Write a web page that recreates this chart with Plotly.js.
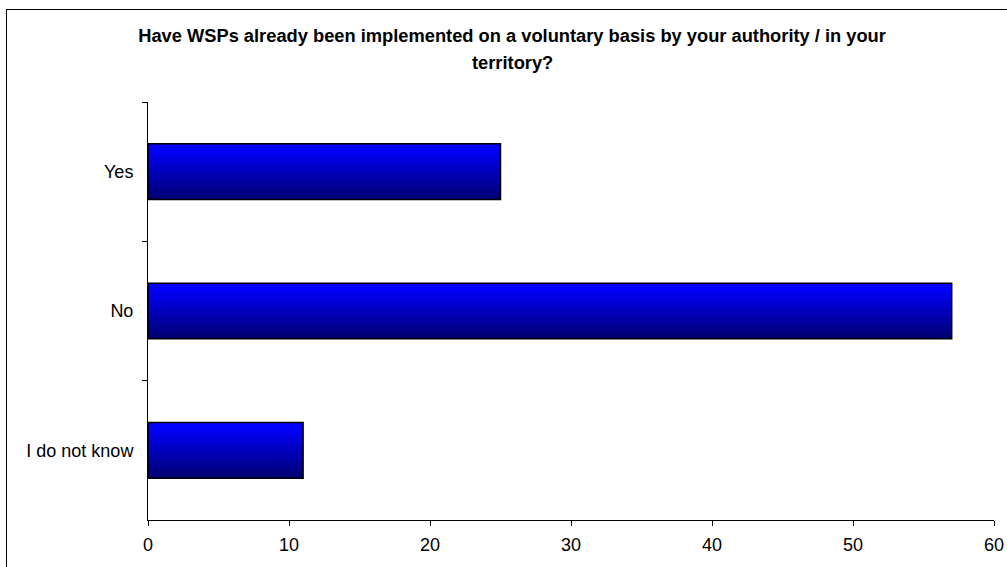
<!DOCTYPE html>
<html>
<head>
<meta charset="utf-8">
<script src="https://cdn.plot.ly/plotly-3.0.1.min.js"></script>
<style>
  html, body { margin: 0; padding: 0; background: #fff; }
  #wrap { position: relative; width: 1007px; height: 567px; overflow: hidden; }
  #chart { width: 1007px; height: 567px; }
  #frame { position: absolute; left: 6px; top: 9px; width: 1010px; height: 570px;
           border: 1.5px solid #000; pointer-events: none; box-sizing: border-box; }
</style>
</head>
<body>
<div id="wrap">
  <div id="chart"></div>
  <div id="frame"></div>
</div>
<script>
const categories = ["Yes", "No", "I do not know"];
const values = [25, 57, 11];
const titleLine1 = "Have WSPs already been implemented on a voluntary basis by your authority / in your";
const titleLine2 = "territory?";
const xTickValues = [0, 10, 20, 30, 40, 50, 60];

const FONT = "Liberation Sans, Arial, sans-serif";

const trace = {
  type: "bar",
  orientation: "h",
  y: categories,
  x: values,
  marker: { color: "#0000cc", line: { color: "#000000", width: 1.5 } },
  hoverinfo: "none"
};

const layout = {
  width: 1007,
  height: 567,
  margin: { l: 148, r: 13, t: 102, b: 47 },
  paper_bgcolor: "rgba(0,0,0,0)",
  plot_bgcolor: "rgba(0,0,0,0)",
  showlegend: false,
  bargap: 0.6,
  font: { family: FONT, size: 18, color: "#000" },
  title: {
    text: "<b>" + titleLine1 + "</b>",
    font: { family: FONT, size: 18.3, color: "#000" },
    xref: "container", x: 0.5085, xanchor: "center",
    yref: "container", y: 1 - 36 / 567, yanchor: "middle"
  },
  annotations: [{
    text: "<b>" + titleLine2 + "</b>",
    font: { family: FONT, size: 18.3, color: "#000" },
    xref: "paper", x: (512 - 148) / 846, xanchor: "center",
    yref: "paper", y: (520 - 62.5) / 418, yanchor: "middle",
    showarrow: false
  }],
  xaxis: {
    range: [0, 60],
    tickvals: xTickValues,
    ticktext: xTickValues.map(String),
    ticks: "outside", ticklen: 5, tickwidth: 1, tickcolor: "#000",
    showline: true, linecolor: "#000", linewidth: 1,
    showgrid: false, zeroline: false,
    ticklabelstandoff: 3,
    tickfont: { family: FONT, size: 18, color: "#000" },
    fixedrange: true
  },
  yaxis: {
    type: "category",
    categoryorder: "array",
    categoryarray: categories,
    autorange: "reversed",
    tickson: "boundaries",
    ticks: "outside", ticklen: 5, tickwidth: 1, tickcolor: "#000",
    showline: true, linecolor: "#000", linewidth: 1,
    showgrid: false, zeroline: false,
    ticklabelstandoff: 10,
    tickfont: { family: FONT, size: 18, color: "#000" },
    fixedrange: true
  }
};

function applyGradient(gd) {
  const svg = gd.querySelector("svg.main-svg");
  if (!svg) return;
  let defs = svg.querySelector("defs");
  if (!defs) {
    defs = document.createElementNS("http://www.w3.org/2000/svg", "defs");
    svg.insertBefore(defs, svg.firstChild);
  }
  if (!svg.querySelector("#barGrad")) {
    const ns = "http://www.w3.org/2000/svg";
    const g = document.createElementNS(ns, "linearGradient");
    g.setAttribute("id", "barGrad");
    g.setAttribute("x1", "0"); g.setAttribute("y1", "0");
    g.setAttribute("x2", "0"); g.setAttribute("y2", "1");
    [["0", "#0000ff"], ["0.12", "#0000f8"], ["1", "#000070"]].forEach(([o, c]) => {
      const s = document.createElementNS(ns, "stop");
      s.setAttribute("offset", o);
      s.setAttribute("stop-color", c);
      g.appendChild(s);
    });
    defs.appendChild(g);
  }
  gd.querySelectorAll(".barlayer .point path").forEach(p => {
    p.style.fill = "url(#barGrad)";
    p.style.fillOpacity = "1";
  });
}

Plotly.newPlot("chart", [trace], layout, { displayModeBar: false, staticPlot: true })
  .then(gd => applyGradient(gd));
</script>
</body>
</html>
